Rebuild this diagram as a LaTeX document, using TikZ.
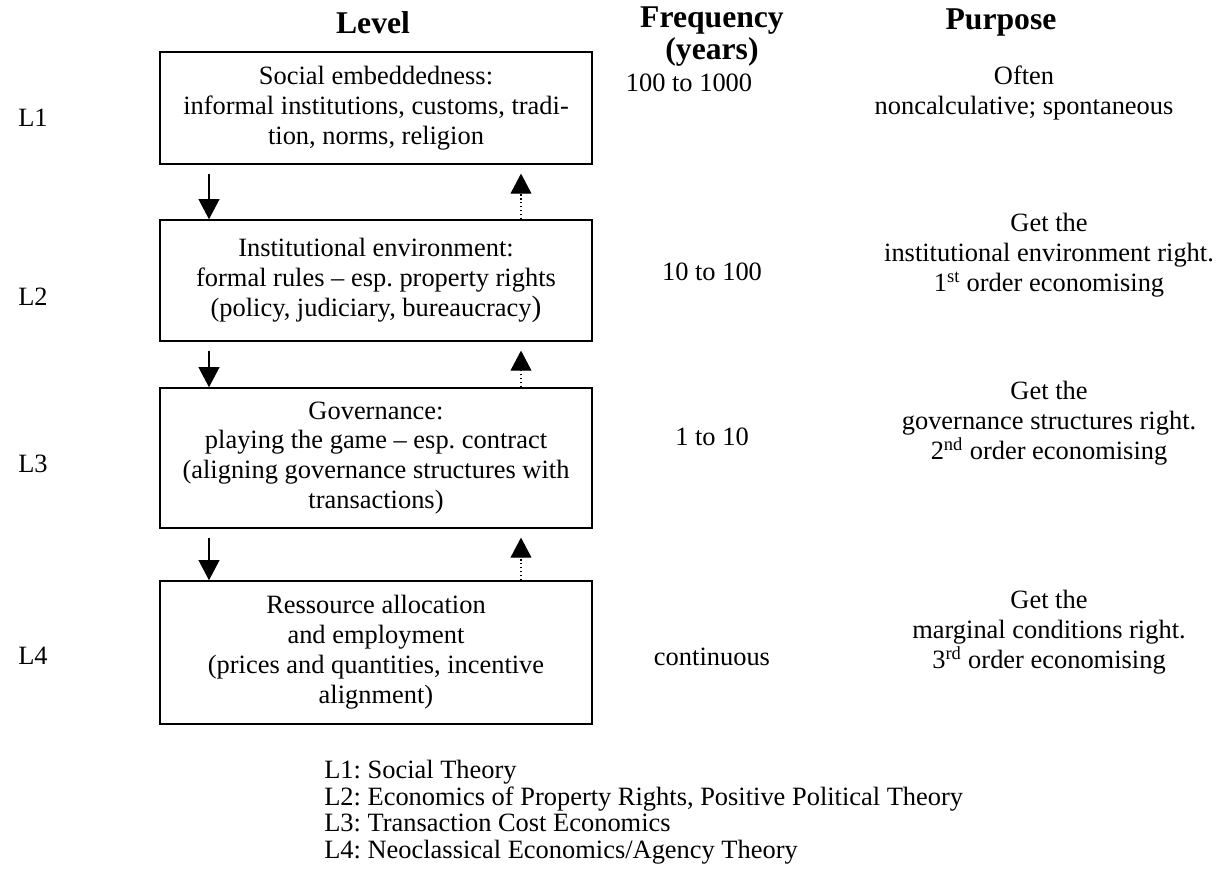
\documentclass[tikz,border=0pt]{standalone}
\usepackage{fontspec}
\setmainfont{Liberation Serif}
\usetikzlibrary{positioning, arrows.meta}
\frenchspacing

\begin{document}
\begin{tikzpicture}[x=0.025cm, y=-0.025cm,
    every node/.style={font=\fontsize{18.8}{21.3}\selectfont, inner sep=0pt},
    levelbox/.style={draw, line width=1.1pt, minimum width=10.8cm, align=center},
    headtext/.style={font=\fontsize{22.5}{25}\selectfont\bfseries},
    downarr/.style={line width=0.8pt, -{Triangle[length=0.5cm, width=0.52cm]}, shorten <=0.22cm},
    uparr/.style={line width=0.8pt, dotted, -{Triangle[length=0.5cm, width=0.52cm]}, shorten >=0.22cm}]
    \useasboundingbox (0,0) rectangle (1228,884);

    % column heads
    \node[headtext] (hlevel) at (373,23) {Level};
    \node[headtext] (hfreq) at (712,21) {Frequency};
    \node[headtext] (hyears) at (712,52) {(years)};
    \node[headtext] (hpurp) at (1001,23) {Purpose};

    % the four levels
    \node[levelbox, minimum height=2.8cm] (soc) at (376,108) {Social embeddedness:\\informal institutions, customs, tradi-\\tion, norms, religion};
    \node[levelbox, minimum height=3.025cm] (inst) at (376,280.5) {Institutional environment:\\formal rules -- esp. property rights\\(policy, judiciary, bureaucracy{\fontsize{21}{21}\selectfont )}};
    \node[levelbox, minimum height=3.5cm] (gov) at (376,458) {Governance:\\playing the game -- esp. contract\\(aligning governance structures with\\transactions)};
    \node[levelbox, minimum height=3.575cm] (res) at (376,652.5) {Ressource allocation\\and employment\\(prices and quantities, incentive\\alignment)};

    \node (l1) at (33,118) {L1};
    \node (l2) at (33,297) {L2};
    \node (l3) at (33,464) {L3};
    \node (l4) at (33,656) {L4};

    % arrows between levels
    \coordinate (dncol) at (209,0);
    \coordinate (upcol) at (521,0);
    \draw[downarr] (soc.south -| dncol) -- (inst.north -| dncol);
    \draw[uparr] (inst.north -| upcol) -- (soc.south -| upcol);
    \draw[downarr] (inst.south -| dncol) -- (gov.north -| dncol);
    \draw[uparr] (gov.north -| upcol) -- (inst.south -| upcol);
    \draw[downarr] (gov.south -| dncol) -- (res.north -| dncol);
    \draw[uparr] (res.north -| upcol) -- (gov.south -| upcol);

    % frequency
    \node (f1) at (689,83) {100 to 1000};
    \node (f2) at (712,272) {10 to 100};
    \node (f3) at (712,437) {1 to 10};
    \node (f4) at (712,657) {continuous};

    % purpose
    \node[align=center] (p1) at (1024,93) {Often\\noncalculative; spontaneous};
    \node[align=center] (p2) at (1049,255) {Get the\\institutional environment right.\\1\textsuperscript{st} order economising};
    \node[align=center] (p3) at (1049,423) {Get the\\governance structures right.\\2\textsuperscript{nd} order economising};
    \node[align=center] (p4) at (1049,632) {Get the\\marginal conditions right.\\3\textsuperscript{rd} order economising};

    % theories
    \node[align=left, anchor=north west, font=\fontsize{18.8}{18.9}\selectfont] (theo) at (324,760) {L1: Social Theory\\L2: Economics of Property Rights, Positive Political Theory\\L3: Transaction Cost Economics\\L4: Neoclassical Economics/Agency Theory};
\end{tikzpicture}
\end{document}
